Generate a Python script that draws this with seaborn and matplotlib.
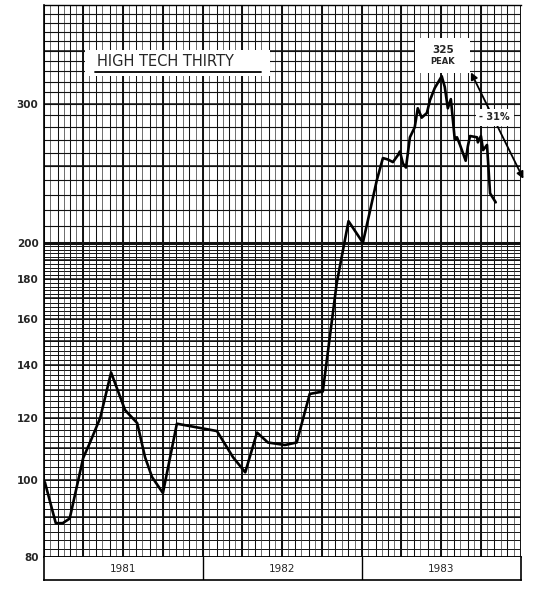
import numpy as np
import pandas as pd
import matplotlib
matplotlib.use("Agg")
import matplotlib.pyplot as plt
from matplotlib.ticker import FixedLocator, FixedFormatter, NullLocator, NullFormatter
from matplotlib.patches import Rectangle
import seaborn as sns

# ---- data ----
dates = [
    "1981-01-03", "1981-01-28", "1981-02-13", "1981-03-01", "1981-04-01", "1981-04-16",
    "1981-05-10", "1981-06-04", "1981-07-06", "1981-08-03", "1981-08-21", "1981-09-06",
    "1981-10-01", "1981-11-02", "1982-02-02", "1982-03-11", "1982-04-08", "1982-05-05",
    "1982-05-30", "1982-07-08", "1982-08-04", "1982-09-03", "1982-10-03", "1982-11-04",
    "1982-12-01", "1983-01-03", "1983-01-19", "1983-02-04", "1983-02-18", "1983-03-01",
    "1983-03-13", "1983-03-24", "1983-03-29", "1983-04-05", "1983-04-12", "1983-04-21",
    "1983-05-02", "1983-05-09", "1983-05-18", "1983-05-30", "1983-06-06", "1983-06-17",
    "1983-07-03", "1983-07-10", "1983-07-17", "1983-07-24", "1983-08-02", "1983-08-07",
    "1983-08-14", "1983-08-27", "1983-09-01", "1983-09-06", "1983-09-22", "1983-09-24",
    "1983-10-01", "1983-10-06", "1983-10-15", "1983-10-22", "1983-11-04",
]
values = [
    99.5, 88.3, 88.3, 89.5, 106.8, 111.5,
    120, 137, 122.8, 118.2, 107, 101,
    96.4, 118, 115.5, 107, 102.4, 115,
    111.7, 110.9, 111.7, 128.7, 129.6, 177.8,
    213, 200, 219, 240, 256, 255,
    253, 258, 261, 252, 249, 272,
    280, 296, 288, 292, 303, 314,
    325, 315, 296, 304, 270, 272,
    266, 254, 265, 273, 272, 268,
    273, 262, 266, 231, 225,
]
year_labels = ["1981", "1982", "1983"]
y_ticks = [80, 100, 120, 140, 160, 180, 200, 300]
title = "HIGH TECH THIRTY"
peak_label = "325"
drop_label = "- 31%"

df = pd.DataFrame({"date": pd.to_datetime(dates), "value": values})

sns.set_style("white")
plt.rcParams["font.family"] = ["DejaVu Sans"]

W, H = 544, 603
fig = plt.figure(figsize=(W / 100, H / 100), dpi=100)
L, R, T, B = 44, 521, 5, 557
ax = fig.add_axes([L / W, 1 - B / H, (R - L) / W, (B - T) / H])
axy = fig.add_axes([L / W, 1 - 580 / H, (R - L) / W, (580 - B) / H], sharex=ax)

x0, x1 = pd.Timestamp("1981-01-01"), pd.Timestamp("1984-01-01")
ax.set_yscale("log")
ax.set_ylim(80, 400)
ax.set_xlim(x0, x1)

# ---- chart-paper grid ----
ink = "#111111"
for v in range(80, 200, 2):
    ax.axhline(v, color=ink, lw=0.7, zorder=0.5)
for v in range(80, 200, 10):
    ax.axhline(v, color=ink, lw=1.1, zorder=0.6)
for v in range(210, 400, 10):
    ax.axhline(v, color=ink, lw=0.8, zorder=0.6)
for v in (250, 300, 350):
    ax.axhline(v, color=ink, lw=1.1, zorder=0.6)
ax.axhline(200, color=ink, lw=2.2, zorder=0.7)

for d in pd.date_range(x0, x1, freq="SMS"):
    ax.axvline(d, color="#333333", lw=0.5, zorder=0.5)
for d in pd.date_range(x0, x1, freq="MS"):
    ax.axvline(d, color=ink, lw=0.75, zorder=0.6)
for d in pd.date_range(x0, x1, freq="QS"):
    ax.axvline(d, color=ink, lw=1.4, zorder=0.7)

# ---- the series ----
sns.lineplot(data=df, x="date", y="value", color="black", lw=1.9, ax=ax, zorder=3)

ax.yaxis.set_major_locator(FixedLocator(y_ticks))
ax.yaxis.set_major_formatter(FixedFormatter([str(v) for v in y_ticks]))
ax.yaxis.set_minor_locator(NullLocator())
ax.yaxis.set_minor_formatter(NullFormatter())
ax.tick_params(axis="y", length=0, pad=4, labelsize=7.5)
for lab in ax.get_yticklabels():
    lab.set_fontweight("bold")
ax.tick_params(axis="x", bottom=False, labelbottom=False, length=0)
ax.set_xlabel("")
ax.set_ylabel("")
for s in ax.spines.values():
    s.set_color("black")
    s.set_linewidth(1.2)
ax.spines["right"].set_visible(False)
ax.spines["top"].set_linewidth(1.0)

# ---- annotations ----
ax.add_patch(Rectangle((0.086, 0.872), 0.388, 0.047, transform=ax.transAxes,
                       facecolor="white", edgecolor="none", zorder=4))
ax.text(0.111, 0.897, title, transform=ax.transAxes, ha="left", va="center",
        fontsize=10.5, zorder=5)
ax.plot([0.107, 0.455], [0.878, 0.878], transform=ax.transAxes, color="black",
        lw=1.3, zorder=5)

ax.add_patch(Rectangle((0.778, 0.876), 0.115, 0.064, transform=ax.transAxes,
                       facecolor="white", edgecolor="none", zorder=4))
ax.text(0.836, 0.918, peak_label, transform=ax.transAxes, ha="center", va="center",
        fontsize=7.5, fontweight="bold", zorder=5)
ax.text(0.836, 0.897, "PEAK", transform=ax.transAxes, ha="center", va="center",
        fontsize=6, fontweight="bold", zorder=5)

ax.annotate("", xy=(0.895, 0.878), xytext=(1.005, 0.685),
            xycoords="axes fraction", textcoords="axes fraction",
            arrowprops=dict(arrowstyle="<|-|>", color="black", lw=1.3,
                            mutation_scale=10, shrinkA=0, shrinkB=0),
            annotation_clip=False, zorder=4)
ax.text(0.945, 0.797, drop_label, transform=ax.transAxes, ha="center", va="center",
        fontsize=7, fontweight="bold", zorder=6,
        bbox=dict(facecolor="white", edgecolor="none", pad=2.5))

# ---- year strip ----
axy.set_ylim(0, 1)
for y in pd.date_range(x0, x1, freq="YS")[1:-1]:
    axy.axvline(y, color="black", lw=1.0)
for i, lab in enumerate(year_labels):
    mid = pd.Timestamp(f"{1981 + i}-07-02")
    axy.text(mid, 0.5, lab, ha="center", va="center", fontsize=7.5)
axy.set_xticks([])
axy.set_yticks([])
axy.tick_params(length=0, labelbottom=False, labelleft=False)
for s in axy.spines.values():
    s.set_color("black")
    s.set_linewidth(1.2)
axy.spines["top"].set_visible(False)
axy.set_xlim(x0, x1)

fig.savefig("out.png", dpi=100)
